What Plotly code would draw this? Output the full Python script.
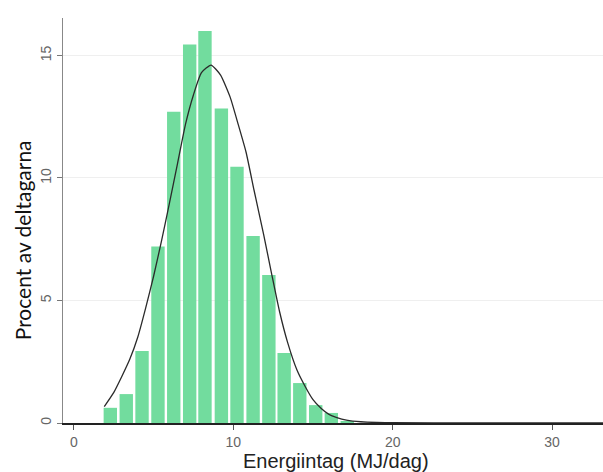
import plotly.graph_objects as go

# Histogram bins (bin centres, MJ/dag) and percentages
bin_centres = [2.28, 3.28, 4.27, 5.27, 6.26, 7.26, 8.22, 9.25, 10.23, 11.24,
               12.23, 13.19, 14.17, 15.17, 16.15, 17.15]
percent = [0.62, 1.18, 2.94, 7.2, 12.7, 15.45, 16.0, 12.84, 10.46, 7.63,
           6.04, 2.86, 1.63, 0.73, 0.41, 0.08]

# Normal density overlay
curve_x = [1.9, 2.5, 3.0, 3.5, 4.0, 4.5, 5.0, 5.5, 6.0, 6.5, 7.0, 7.5, 8.0, 8.6,
           9.2, 9.8, 10.3, 10.8, 11.3, 11.9, 12.4, 12.9, 13.4, 14.0, 14.5, 15.0,
           15.5, 16.0, 16.5, 17.1, 18.0, 19.0, 20.0, 25.0, 34.0]
curve_y = [0.67, 1.25, 1.9, 2.6, 3.5, 4.7, 6.0, 7.45, 9.0, 10.6, 12.2, 13.4, 14.3, 14.61,
           14.2, 13.3, 12.2, 11.05, 9.5, 7.7, 6.1, 4.55, 3.3, 2.15, 1.5, 0.95,
           0.6, 0.35, 0.22, 0.12, 0.05, 0.02, 0.01, 0.0, 0.0]

x_ticks = [0, 10, 20, 30]
y_ticks = [0, 5, 10, 15]

fig = go.Figure()
fig.add_trace(go.Bar(x=bin_centres, y=percent, width=0.84,
                     marker=dict(color="#72DC9E", line=dict(width=0)),
                     showlegend=False))
fig.add_trace(go.Scatter(x=curve_x, y=curve_y, mode="lines",
                         line=dict(color="#2a2a2a", width=1.3, shape="spline", smoothing=0.5),
                         showlegend=False))

fig.update_layout(
    width=603, height=472,
    margin=dict(l=63, r=0, t=18, b=49, autoexpand=False),
    paper_bgcolor="white", plot_bgcolor="white",
    font=dict(family="Liberation Sans, Arial, sans-serif", color="#444"),
    xaxis=dict(range=[-0.69, 33.2], tickvals=x_ticks, ticks="outside", ticklen=5,
               tickcolor="#555", showgrid=False, zeroline=False, automargin=False,
               showline=True, linecolor="#222", linewidth=1.5,
               tickfont=dict(size=14, color="#666")),
    yaxis=dict(range=[0, 16.53], tickvals=y_ticks, ticks="outside", ticklen=5,
               tickcolor="#777", showgrid=True, gridcolor="#efefef", gridwidth=1,
               zeroline=False, showline=True, linecolor="#888", linewidth=1,
               automargin=False,
               tickangle=-90, tickfont=dict(size=14, color="#666")),
    annotations=[
        dict(text="Procent av deltagarna", xref="paper", yref="paper",
             x=-0.075, y=0.45, xanchor="center", yanchor="middle",
             textangle=-90, showarrow=False,
             font=dict(family="Lato, sans-serif", size=21, color="#111")),
        dict(text="Energiintag (MJ/dag)", xref="paper", yref="paper",
             x=0.505, y=-0.093, xanchor="center", yanchor="middle",
             showarrow=False,
             font=dict(family="Liberation Sans, Arial, sans-serif", size=20, color="#222")),
    ],
)

fig.write_html("out.html", config={"displayModeBar": False},
               post_script="document.body.style.margin='0';document.body.style.overflow='hidden';")
